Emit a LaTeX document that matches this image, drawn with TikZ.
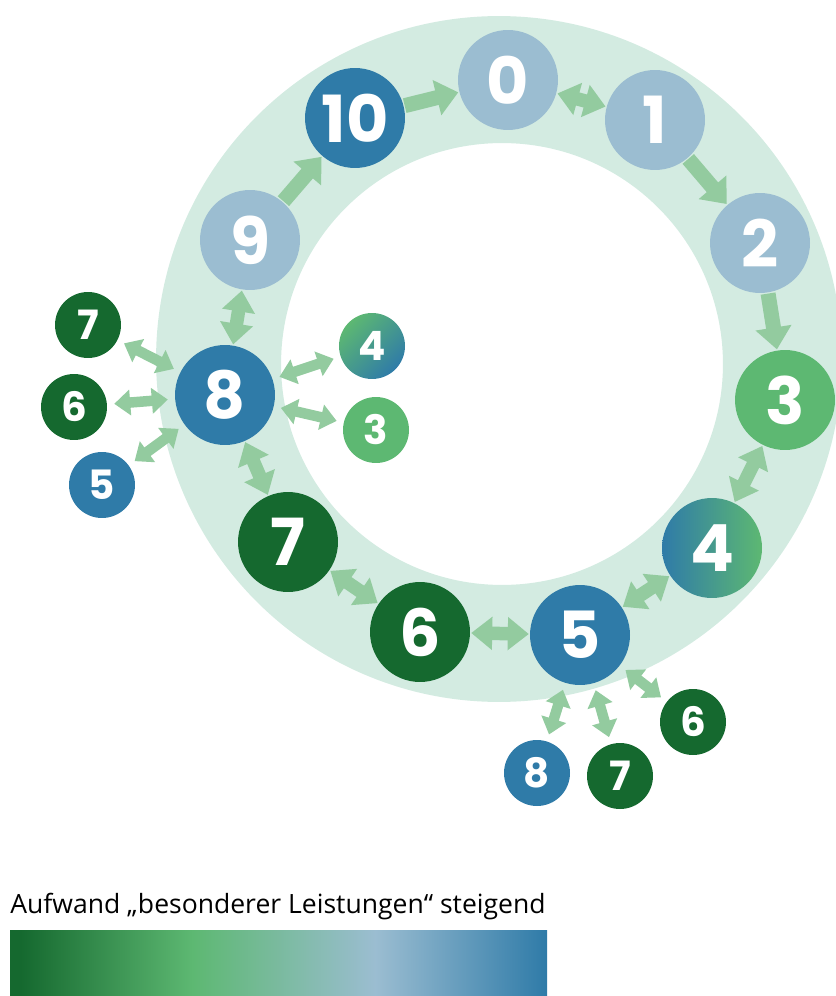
\documentclass[tikz,border=0pt]{standalone}
\usepackage{fontspec}
\setmainfont{Open Sans}
\newfontfamily\numfont{Poppins}
\usetikzlibrary{arrows.meta}
\definecolor{ringbg}{HTML}{D3EBE1}
\definecolor{arrowgreen}{HTML}{93CB9F}
\definecolor{paleblue}{HTML}{9BBDD1}
\definecolor{deepblue}{HTML}{2F7BA8}
\definecolor{darkgreen}{HTML}{15692F}
\definecolor{midgreen}{HTML}{5DB872}
\pgfdeclarehorizontalshading{effort}{100bp}{color(0bp)=(darkgreen); color(26bp)=(darkgreen); color(42bp)=(midgreen); color(59bp)=(paleblue); color(75bp)=(deepblue); color(100bp)=(deepblue)}

\begin{document}
\begin{tikzpicture}[x=0.02cm, y=-0.02cm,
    stage/.style={circle, minimum size=2cm, inner sep=0pt, text=white, font=\numfont\bfseries\fontsize{37}{37}\selectfont},
    side/.style={circle, minimum size=1.32cm, inner sep=0pt, text=white, font=\numfont\bfseries\fontsize{23}{23}\selectfont},
    flow/.style={draw=arrowgreen, line width=0.3cm, -{Triangle[width=0.7cm,length=0.44cm]}, shorten >=0.5pt, shorten <=0.5pt},
    both/.style={draw=arrowgreen, line width=0.27cm, {Triangle[width=0.64cm,length=0.42cm]}-{Triangle[width=0.64cm,length=0.42cm]}, shorten >=0.5pt, shorten <=0.5pt},
    link/.style={draw=arrowgreen, line width=0.21cm, {Triangle[width=0.5cm,length=0.32cm]}-{Triangle[width=0.5cm,length=0.32cm]}, shorten >=4pt, shorten <=4pt}]
        \useasboundingbox (0,0) rectangle (835,996);
        % ring
        \fill[ringbg, even odd rule] (499,359) circle (6.86cm) (502,364) circle (4.42cm);
        % stages on the ring
        \node[stage, fill=paleblue] (s0) at (508,80) {0};
        \node[stage, fill=paleblue] (s1) at (655,120) {1};
        \node[stage, fill=paleblue] (s2) at (760,243) {2};
        \node[stage, fill=midgreen] (s3) at (785,400) {3};
        \node[stage, left color=deepblue, right color=midgreen] (s4) at (712,548) {4};
        \node[stage, fill=deepblue] (s5) at (580,635) {5};
        \node[stage, fill=darkgreen] (s6) at (420,632) {6};
        \node[stage, fill=darkgreen] (s7) at (288,542) {7};
        \node[stage, fill=deepblue] (s8) at (225,395) {8};
        \node[stage, fill=paleblue] (s9) at (250,240) {9};
        \node[stage, fill=deepblue] (s10) at (355,118) {10};
        % side stages of 8
        \node[side, fill=darkgreen] (a7) at (88,325) {7};
        \node[side, fill=darkgreen] (a6) at (74,407) {6};
        \node[side, fill=deepblue] (a5) at (102,485) {5};
        \node[side, top color=midgreen, bottom color=deepblue, shading angle=45] (a4) at (372,346) {4};
        \node[side, fill=midgreen] (a3) at (376,430) {3};
        % side stages of 5
        \node[side, fill=darkgreen] (b6) at (693,722) {6};
        \node[side, fill=darkgreen] (b7) at (620,776) {7};
        \node[side, fill=deepblue] (b8) at (537,773) {8};
        % arrows
        \draw[flow] (s10) -- (s0);
        \draw[both] (s0) -- (s1);
        \draw[flow] (s1) -- (s2);
        \draw[flow] (s2) -- (s3);
        \draw[both] (s3) -- (s4);
        \draw[both] (s4) -- (s5);
        \draw[both] (s5) -- (s6);
        \draw[both] (s6) -- (s7);
        \draw[both] (s7) -- (s8);
        \draw[both] (s8) -- (s9);
        \draw[flow] (s9) -- (s10);
        \foreach \n in {a7,a6,a5,a4,a3} {
            \draw[link] (s8) -- (\n);
        }
        \foreach \n in {b6,b7,b8} {
            \draw[link] (s5) -- (\n);
        }
        % scale
        \node[anchor=base west, inner sep=0pt, font=\fontsize{15.1}{18}\selectfont] (caption) at (10,913) {Aufwand „besonderer Leistungen“ steigend};
        \shade[shading=effort] (10,930) rectangle (547,996);
    \end{tikzpicture}
\end{document}
